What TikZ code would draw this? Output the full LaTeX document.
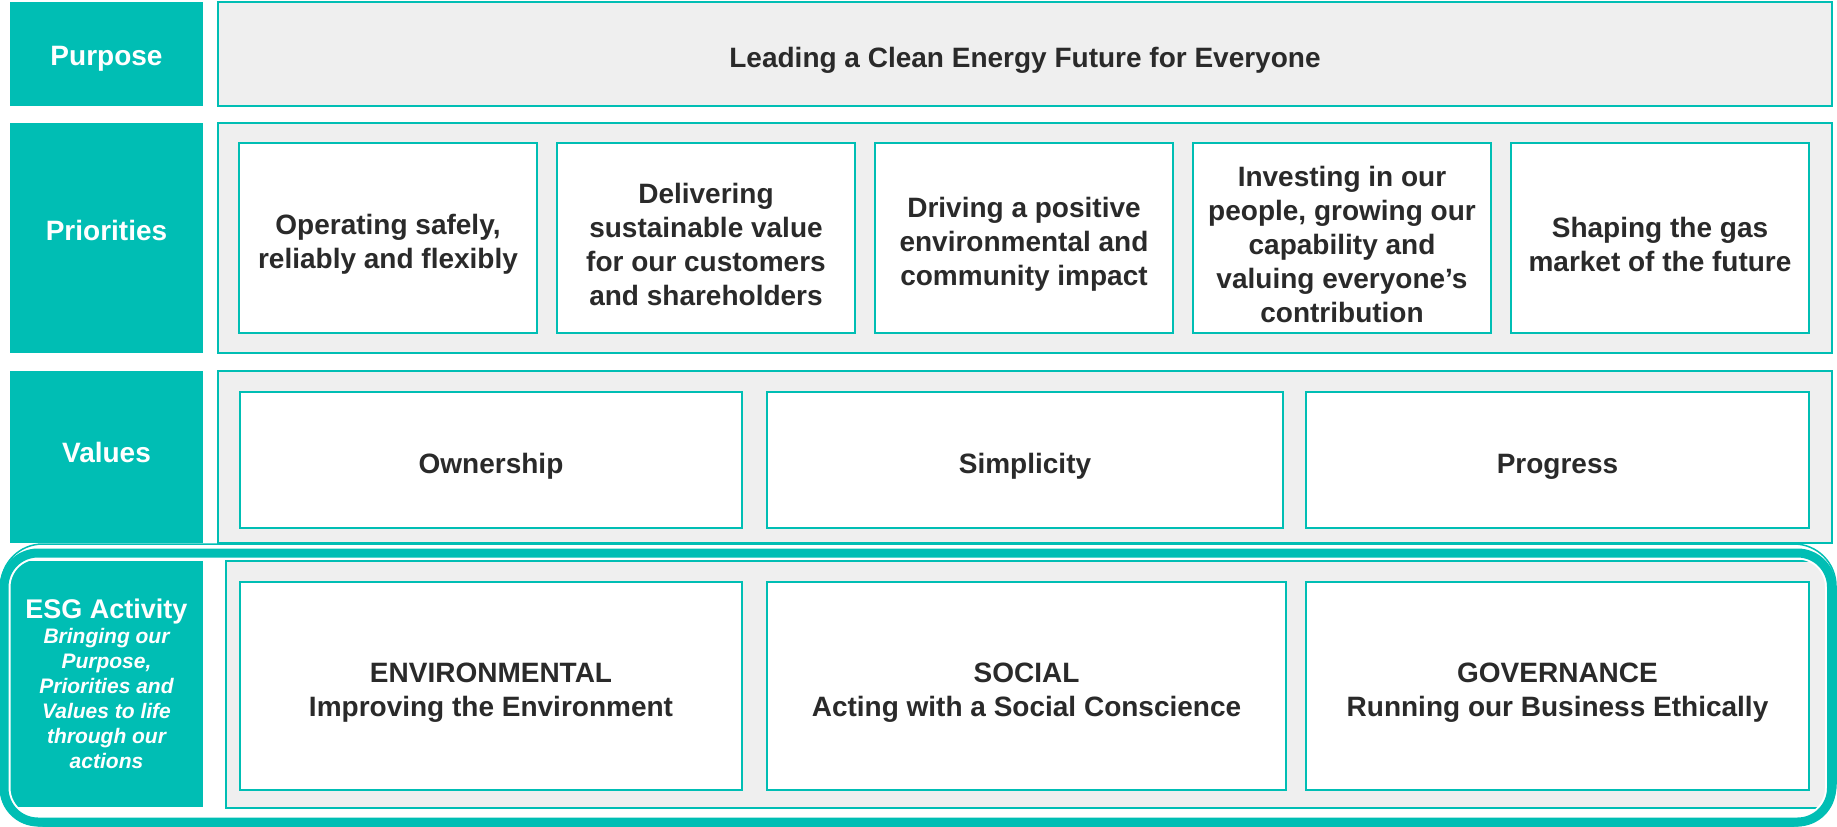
\documentclass[tikz,border=0pt]{standalone}
\usepackage{fontspec}
\setmainfont{Liberation Sans}
\usetikzlibrary{positioning}

\definecolor{esgteal}{RGB}{0,190,180}
\definecolor{panelgray}{RGB}{239,239,239}
\definecolor{darktext}{RGB}{42,42,42}

% pushes box text down a little, as the slide does
\newcommand{\boxstrut}{\rule{0pt}{33pt}}

\tikzset{
  rowlab/.style={fill=esgteal, text=white, font=\bfseries\fontsize{28}{34}\selectfont, align=center,
    inner sep=0pt, outer sep=0pt, minimum width=193pt, anchor=north west},
  rowpanel/.style={draw=esgteal, fill=panelgray, line width=2pt, inner sep=0pt, outer sep=0pt,
    anchor=north west, text=darktext, font=\bfseries\fontsize{28}{34}\selectfont},
  itembox/.style={draw=esgteal, fill=white, line width=2pt, inner sep=0pt, outer sep=0pt,
    anchor=north west, text=darktext, font=\bfseries\fontsize{28}{34}\selectfont, align=center},
}

\begin{document}
\begin{tikzpicture}[x=1pt, y=-1pt]
\useasboundingbox (0,0) rectangle (1837,827);

% purpose
\node[rowlab, minimum height=104pt, text height=29pt] (purposelab) at (10,2) {Purpose};
\node[rowpanel, minimum width=1614pt, minimum height=104pt] (purposepanel) at (218,2) {\boxstrut Leading a Clean Energy Future for Everyone};

% priorities
\node[rowlab, minimum height=230pt, text depth=16pt] (prioritieslab) at (10,123) {Priorities};
\node[rowpanel, minimum width=1614pt, minimum height=230pt] (prioritiespanel) at (218,123) {};
\foreach \i/\ptxt in {0/{Operating safely,\\reliably and flexibly},
    1/{Delivering\\sustainable value\\for our customers\\and shareholders},
    2/{Driving a positive\\environmental and\\community impact},
    3/{Investing in our\\people, growing our\\capability and\\valuing everyone’s\\contribution},
    4/{Shaping the gas\\market of the future}}
  \node[itembox, minimum width=298pt, minimum height=190pt] (prio\i) at (239+318*\i,143) {\boxstrut\ptxt};

% values
\node[rowlab, minimum height=172pt, text depth=9.5pt] (valueslab) at (10,371) {Values};
\node[rowpanel, minimum width=1614pt, minimum height=172pt] (valuespanel) at (218,371) {};
\foreach \n/\x/\w/\vtxt in {own/240/502/Ownership, simp/767/516/Simplicity, prog/1306/503/Progress}
  \node[itembox, minimum width=\w pt, minimum height=136pt] (\n) at (\x,392) {\boxstrut\vtxt};

% esg
\node[rowlab, minimum height=246pt, text width=185pt, align=flush center, font=\bfseries\fontsize{27}{33}\selectfont] (esglab) at (10,561)
  {ESG Activity\par{\itshape\fontsize{21}{25}\selectfont Bringing our\\Purpose,\\Priorities and\\Values to life\\through our\\actions\par}};
\node[rowpanel, minimum width=1600pt, minimum height=247pt] (esgpanel) at (226,561) {};
\foreach \n/\x/\w/\etxt in {env/240/502/{ENVIRONMENTAL\\Improving the Environment},
    soc/767/519/{SOCIAL\\Acting with a Social Conscience},
    gov/1306/503/{GOVERNANCE\\Running our Business Ethically}}
  \node[itembox, minimum width=\w pt, minimum height=208pt] (\n) at (\x,582) {\boxstrut\etxt};

%\draw[red] (esgpanel.north east) -- (esgpanel.south east);
\draw[white, line width=13pt, rounded corners=34pt] (4,553) rectangle (1831.5,822);
\draw[esgteal, line width=9pt, rounded corners=34pt] (4,553) rectangle (1831.5,822);
\draw[esgteal, line width=1.5pt, rounded corners=42pt] (0.75,544) rectangle (1836,826);
\end{tikzpicture}
\end{document}
